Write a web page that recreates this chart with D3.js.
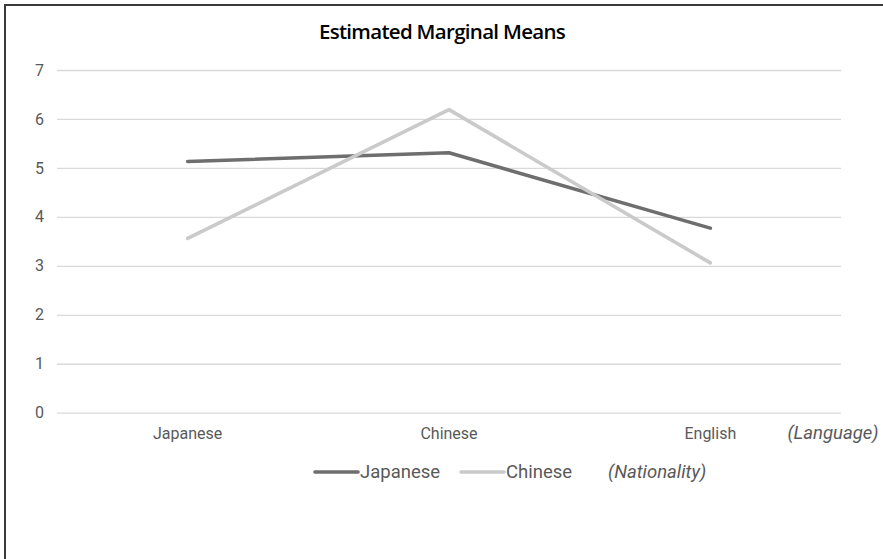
<!DOCTYPE html>
<html>
<head>
<meta charset="utf-8">
<script src="https://cdn.jsdelivr.net/npm/d3@7"></script>
<style>
  html, body { margin: 0; padding: 0; background: #fff; }
  svg { display: block; }
</style>
</head>
<body>
<svg id="chart" width="883" height="559"></svg>
<script>
// Estimated marginal means by language condition, one line per nationality
const languages = ["Japanese", "Chinese", "English"];
const nationalities = ["Japanese", "Chinese"];
const japaneseMeans = [5.13, 5.31, 3.77];
const chineseMeans = [3.56, 6.19, 3.06];
const yTicks = [0, 1, 2, 3, 4, 5, 6, 7];
const seriesColors = ["#6e6e6e", "#cacaca"];

const series = [
  { name: nationalities[0], values: japaneseMeans, color: seriesColors[0] },
  { name: nationalities[1], values: chineseMeans, color: seriesColors[1] }
];

const svg = d3.select("#chart");
const W = 883, H = 559;
const plot = { left: 57, right: 841, top: 70, bottom: 412.7 };
const tickFont = "Roboto, 'Noto Sans', sans-serif";

// frame: only the top and left edges are visible
svg.append("path")
  .attr("d", `M5,${H} L5,5 L${W},5`)
  .attr("fill", "none")
  .attr("stroke", "#3a3a3a")
  .attr("stroke-width", 2);

// title
svg.append("text")
  .attr("x", 442)
  .attr("y", 39)
  .attr("text-anchor", "middle")
  .attr("font-family", "'Open Sans', sans-serif")
  .attr("font-weight", 600)
  .attr("font-size", 20.5)
  .attr("letter-spacing", -0.7)
  .attr("fill", "#000")
  .text("Estimated Marginal Means");

const x = d3.scaleBand().domain(languages).range([plot.left, plot.right]);
const y = d3.scaleLinear().domain([0, 7]).range([plot.bottom, plot.top]);

// horizontal gridlines with value labels
const yAxis = d3.axisLeft(y)
  .tickValues(yTicks)
  .tickSize(-(plot.right - plot.left))
  .tickPadding(13)
  .tickFormat(d3.format("d"));

const gy = svg.append("g")
  .attr("transform", `translate(${plot.left},0)`)
  .call(yAxis);
gy.select(".domain").remove();
gy.selectAll(".tick line").attr("stroke", "#d9d9d9").attr("stroke-width", 1.3);
gy.selectAll(".tick text")
  .attr("fill", "#595959")
  .attr("font-family", tickFont)
  .attr("font-size", 16);

// category labels along the bottom
const xAxis = d3.axisBottom(x).tickSize(0).tickPadding(15);
const gx = svg.append("g")
  .attr("transform", `translate(0,${plot.bottom})`)
  .call(xAxis);
gx.select(".domain").remove();
gx.selectAll(".tick text")
  .attr("fill", "#595959")
  .attr("font-family", tickFont)
  .attr("font-size", 16);

svg.append("text")
  .attr("x", 833)
  .attr("y", 439)
  .attr("text-anchor", "middle")
  .attr("font-family", tickFont)
  .attr("font-style", "italic")
  .attr("font-size", 18.5)
  .attr("fill", "#595959")
  .text("(Language)");

// lines
const line = d3.line()
  .x((d, i) => x(languages[i]) + x.bandwidth() / 2)
  .y(d => y(d));

svg.append("g")
  .selectAll("path")
  .data(series)
  .join("path")
  .attr("d", d => line(d.values))
  .attr("fill", "none")
  .attr("stroke", d => d.color)
  .attr("stroke-width", 3.6)
  .attr("stroke-linecap", "round")
  .attr("stroke-linejoin", "round");

// legend
const legendY = 472;
const legendItems = [
  { s: series[0], x0: 315 },
  { s: series[1], x0: 461 }
];
const lg = svg.append("g");
legendItems.forEach(it => {
  lg.append("line")
    .attr("x1", it.x0).attr("x2", it.x0 + 43)
    .attr("y1", legendY).attr("y2", legendY)
    .attr("stroke", it.s.color)
    .attr("stroke-width", 3.6)
    .attr("stroke-linecap", "round");
  lg.append("text")
    .attr("x", it.x0 + 45)
    .attr("y", legendY)
    .attr("dy", "0.35em")
    .attr("font-family", tickFont)
    .attr("font-size", 18.5)
    .attr("fill", "#595959")
    .text(it.s.name);
});
lg.append("text")
  .attr("x", 608)
  .attr("y", legendY)
  .attr("dy", "0.35em")
  .attr("font-family", tickFont)
  .attr("font-style", "italic")
  .attr("font-size", 18.5)
  .attr("fill", "#595959")
  .text("(Nationality)");
</script>
</body>
</html>
